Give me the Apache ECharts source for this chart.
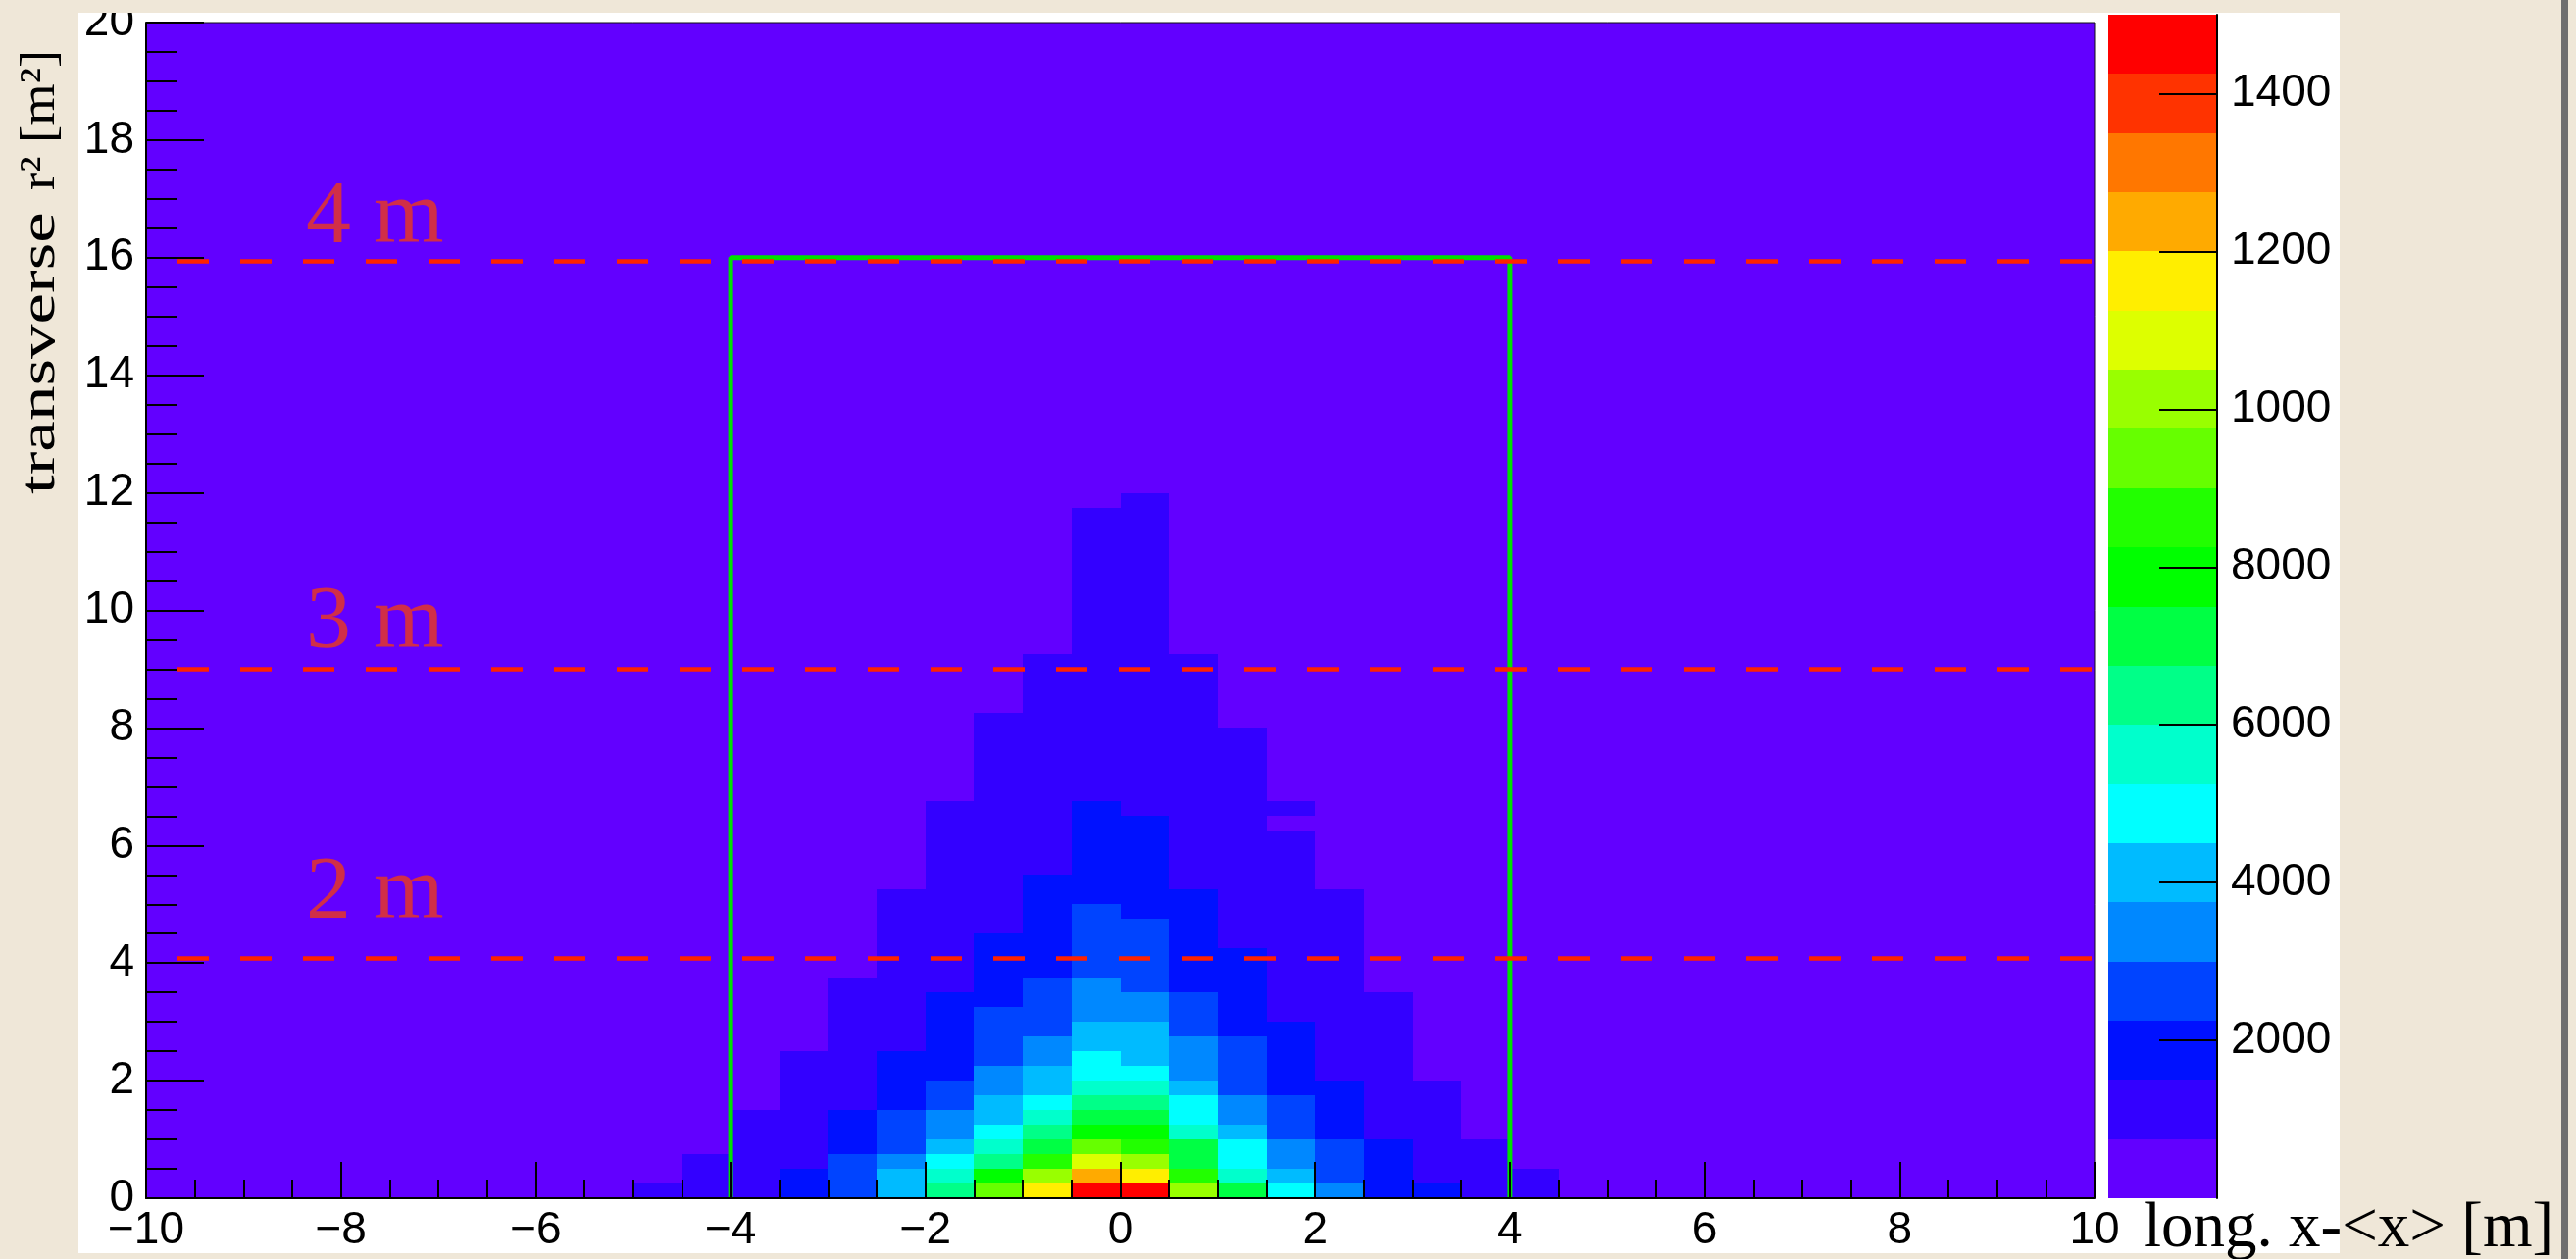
<!DOCTYPE html>
<html>
<head>
<meta charset="utf-8">
<script src="https://cdn.jsdelivr.net/npm/echarts@6/dist/echarts.min.js"></script>
<style>
html,body{margin:0;padding:0;background:#efe7d8;}
#chart{width:2627px;height:1284px;}
</style>
</head>
<body>
<div id="chart"></div>
<script>
// ---------------- data ----------------
const xBinWidth = 0.5;      // long. bin width [m]
const yBinWidth = 0.25;     // transverse r^2 bin width [m^2]

// counts per 0.25 m^2 bin, from r^2 = 0 upwards, one array per 0.5 m column (lower x edge in name)
const colXm50 = [1100];
const colXm45 = [1100,1100,1100];
const colXm40 = [1100,1100,1100,1100,1100,1100];
const colXm35 = [1900,1900,1100,1100,1100,1100,1100,1100,1100,1100];
const colXm30 = [2600,2600,2600,1900,1900,1900,1100,1100,1100,1100,1100,1100,1100,1100,1100];
const colXm25 = [4100,4100,3400,2600,2600,2600,1900,1900,1900,1900,1100,1100,1100,1100,1100,1100,1100,1100,1100,1100,1100];
const colXm20 = [6400,5600,4900,4100,3400,3400,2600,2600,1900,1900,1900,1900,1900,1900,1100,1100,1100,1100,1100,1100,1100,1100,1100,1100,1100,1100,1100];
const colXm15 = [9400,7900,6400,5600,4900,4100,4100,3400,3400,2600,2600,2600,2600,1900,1900,1900,1900,1900,1100,1100,1100,1100,1100,1100,1100,1100,1100,1100,1100,1100,1100,1100,1100];
const colXm10 = [11600,10100,8600,7100,6400,5600,4900,4100,4100,3400,3400,2600,2600,2600,2600,1900,1900,1900,1900,1900,1900,1900,1100,1100,1100,1100,1100,1100,1100,1100,1100,1100,1100,1100,1100,1100,1100];
const colXm05 = [14600,12400,10900,9400,7900,7100,6400,5600,4900,4900,4100,4100,3400,3400,3400,2600,2600,2600,2600,2600,1900,1900,1900,1900,1900,1900,1900,1100,1100,1100,1100,1100,1100,1100,1100,1100,1100,1100,1100,1100,1100,1100,1100,1100,1100,1100,1100];
const colXp00 = [14600,11600,10100,8600,7900,7100,6400,5600,4900,4100,4100,4100,3400,3400,2600,2600,2600,2600,2600,1900,1900,1900,1900,1900,1900,1900,1100,1100,1100,1100,1100,1100,1100,1100,1100,1100,1100,1100,1100,1100,1100,1100,1100,1100,1100,1100,1100,1100];
const colXp05 = [10100,8600,7100,7100,5600,4900,4900,4100,3400,3400,3400,2600,2600,2600,1900,1900,1900,1900,1900,1900,1900,1100,1100,1100,1100,1100,1100,1100,1100,1100,1100,1100,1100,1100,1100,1100,1100];
const colXp10 = [7100,5600,4900,4900,4100,3400,3400,2600,2600,2600,2600,1900,1900,1900,1900,1900,1900,1100,1100,1100,1100,1100,1100,1100,1100,1100,1100,1100,1100,1100,1100,1100];
const colXp15 = [4900,4100,3400,3400,2600,2600,2600,1900,1900,1900,1900,1900,1100,1100,1100,1100,1100,1100,1100,1100,1100,1100,1100,1100,1100,500,1100];
const colXp20 = [3400,2600,2600,2600,1900,1900,1900,1900,1100,1100,1100,1100,1100,1100,1100,1100,1100,1100,1100,1100,1100];
const colXp25 = [1900,1900,1900,1900,1100,1100,1100,1100,1100,1100,1100,1100,1100,1100];
const colXp30 = [1900,1100,1100,1100,1100,1100,1100,1100];
const colXp35 = [1100,1100,1100,1100];
const colXp40 = [1100,1100];

const columnEdges  = [-5.0,-4.5,-4.0,-3.5,-3.0,-2.5,-2.0,-1.5,-1.0,-0.5,0.0,0.5,1.0,1.5,2.0,2.5,3.0,3.5,4.0];
const columnCounts = [colXm50,colXm45,colXm40,colXm35,colXm30,colXm25,colXm20,colXm15,colXm10,colXm05,
                      colXp00,colXp05,colXp10,colXp15,colXp20,colXp25,colXp30,colXp35,colXp40];

// colour palette levels (20 contours)
const levelBounds = [0,750,1500,2250,3000,3750,4500,5250,6000,6750,7500,8250,9000,9750,10500,11250,12000,12750,13500,14250,15000];
const levelColors = ['#6200ff','#3300ff','#0011ff','#0044ff','#0088ff','#00bbff','#00ffff','#00ffcc','#00ff88','#00ff44',
                     '#00ff00','#22ff00','#66ff00','#99ff00','#ddff00','#ffee00','#ffaa00','#ff7700','#ff3300','#ff0000'];
const zTickValues = [2000,4000,6000,8000,10000,12000,14000];
const zTickLabels = ['2000','4000','6000','8000','1000','1200','1400'];

// acceptance box and radius lines
const boxX = [-4,-4,4,4];
const boxY = [0,16,16,0];
const radiusR2 = [4.08, 9.0, 15.95];
const radiusText = ['2 m','3 m','4 m'];
const radiusTextPos = [[-8.36,5.17],[-8.36,9.78],[-8.36,16.66]];

// ---------------- build ----------------
const cells = [];
columnEdges.forEach((x0, i) => {
  columnCounts[i].forEach((v, j) => { cells.push([x0, j * yBinWidth, v]); });
});
const bands = [];
for (let k = 0; k < levelColors.length; k++) {
  bands.push([levelBounds[k], levelBounds[k+1], (levelBounds[k] + levelBounds[k+1]) / 2]);
}
const pieces = levelColors.map((c, k) => ({gte: levelBounds[k], lt: levelBounds[k+1], color: c}));
pieces[pieces.length-1] = {gte: levelBounds[levelBounds.length-2], lte: levelBounds[levelBounds.length-1], color: levelColors[levelColors.length-1]};

const minus = v => (v < 0 ? '\u2212' + Math.abs(v) : String(v));
const LBL = {fontFamily: 'Liberation Sans', fontSize: 46, color: '#000'};
const BG = '#efe7d8';
const SERIF = 'Liberation Serif';

const chart = echarts.init(document.getElementById('chart'), null, {renderer: 'canvas'});
chart.setOption({
  animation: false,
  backgroundColor: BG,
  grid: [
    {left: 149, top: 15, width: 1987, height: 1207, show: true, backgroundColor: '#6200ff', borderColor: '#111', borderWidth: 1},
    {left: 2150, top: 15, width: 111, height: 1207, show: false}
  ],
  xAxis: [
    {type: 'value', gridIndex: 0, min: -10, max: 10, interval: 2, z: 5,
     axisLine: {show: true, onZero: false, lineStyle: {color: '#000', width: 2}},
     axisTick: {show: true, inside: true, length: 37, lineStyle: {color: '#000', width: 2}},
     minorTick: {show: true, splitNumber: 4, length: 19, lineStyle: {color: '#000', width: 2}},
     splitLine: {show: false}, minorSplitLine: {show: false},
     axisLabel: Object.assign({margin: 10, formatter: minus}, LBL)},
    {type: 'value', gridIndex: 1, min: 0, max: 1, show: false}
  ],
  yAxis: [
    {type: 'value', gridIndex: 0, min: 0, max: 20, interval: 2, z: 5,
     axisLine: {show: true, onZero: false, lineStyle: {color: '#000', width: 2}},
     axisTick: {show: true, inside: true, length: 59, lineStyle: {color: '#000', width: 2}},
     minorTick: {show: true, splitNumber: 4, length: 31, lineStyle: {color: '#000', width: 2}},
     splitLine: {show: false}, minorSplitLine: {show: false},
     axisLabel: Object.assign({margin: 12}, LBL)},
    {type: 'value', gridIndex: 1, min: 0, max: 15000, position: 'right', z: 5,
     axisLine: {show: true, onZero: false, lineStyle: {color: '#000', width: 2}},
     axisTick: {show: true, inside: true, length: 59, customValues: zTickValues, lineStyle: {color: '#000', width: 2}},
     splitLine: {show: false},
     axisLabel: Object.assign({margin: 14, customValues: zTickValues,
       formatter: v => { const i = zTickValues.indexOf(v); return i >= 0 ? zTickLabels[i] : ''; }}, LBL)}
  ],
  visualMap: {type: 'piecewise', show: false, dimension: 2, seriesIndex: [0, 1], pieces: pieces},
  series: [
    {type: 'custom', name: 'counts', xAxisIndex: 0, yAxisIndex: 0, data: cells, clip: true,
     encode: {x: 0, y: 1},
     renderItem: (params, api) => {
       const x0 = api.value(0), y0 = api.value(1);
       const a = api.coord([x0, y0]), b = api.coord([x0 + xBinWidth, y0 + yBinWidth]);
       const l = Math.round(a[0]), r = Math.round(b[0]), t = Math.round(b[1]), bt = Math.round(a[1]);
       return {type: 'rect', shape: {x: l, y: t, width: r - l, height: bt - t}, style: {fill: api.visual('color')}};
     }},
    {type: 'custom', name: 'palette', xAxisIndex: 1, yAxisIndex: 1, data: bands,
     encode: {y: [0, 1]},
     renderItem: (params, api) => {
       const a = api.coord([0, api.value(0)]), b = api.coord([1, api.value(1)]);
       const l = Math.round(a[0]), r = Math.round(b[0]), t = Math.round(b[1]), bt = Math.round(a[1]);
       return {type: 'rect', shape: {x: l, y: t, width: r - l, height: bt - t}, style: {fill: api.visual('color')}};
     }},
    {type: 'line', name: 'box', xAxisIndex: 0, yAxisIndex: 0, z: 4,
     data: boxX.map((x, i) => [x, boxY[i]]), symbol: 'none', silent: true,
     lineStyle: {color: '#00e000', width: 5}},
    {type: 'line', name: 'radii', xAxisIndex: 0, yAxisIndex: 0, z: 6, data: [], silent: true,
     markLine: {silent: true, symbol: 'none', animation: false, label: {show: false},
       lineStyle: {color: '#ff2200', width: 4.5, type: [32, 32], dashOffset: 32},
       data: radiusR2.map(v => ({yAxis: v}))}},
    {type: 'scatter', name: 'radius labels', xAxisIndex: 0, yAxisIndex: 0, z: 7, symbolSize: 0, silent: true,
     data: radiusTextPos.map((p, i) => [p[0], p[1], radiusText[i]]),
     label: {show: true, position: [0, 0], align: 'left', verticalAlign: 'middle',
       formatter: p => p.value[2], fontFamily: SERIF, fontSize: 92, color: '#ee3a1a'}}
  ],
  graphic: [
    {type: 'rect', z: -10, shape: {x: 80, y: 13, width: 2306, height: 1265}, style: {fill: '#ffffff'}},
    {type: 'rect', z: 100, shape: {x: 0, y: 0, width: 2627, height: 13}, style: {fill: BG}},
    {type: 'rect', z: 100, shape: {x: 2612, y: 0, width: 7, height: 1284}, style: {fill: '#6e6e6e'}},
    {type: 'text', z: 100, x: 2186, y: 1254,
     style: {text: 'long. x-<x> [m]', fontFamily: SERIF, fontSize: 65, fill: '#000', align: 'left', verticalAlign: 'middle'}},
    {type: 'text', z: 100, x: 42, y: 504, rotation: Math.PI / 2, scaleX: 1.42,
     style: {text: 'transverse', fontFamily: SERIF, fontSize: 50, fill: '#000', align: 'left', verticalAlign: 'middle'}},
    {type: 'text', z: 100, x: 42, y: 194, rotation: Math.PI / 2, scaleX: 1.09,
     style: {text: 'r\u00b2 [m\u00b2]', fontFamily: SERIF, fontSize: 50, fill: '#000', align: 'left', verticalAlign: 'middle'}}
  ]
});
</script>
</body>
</html>
